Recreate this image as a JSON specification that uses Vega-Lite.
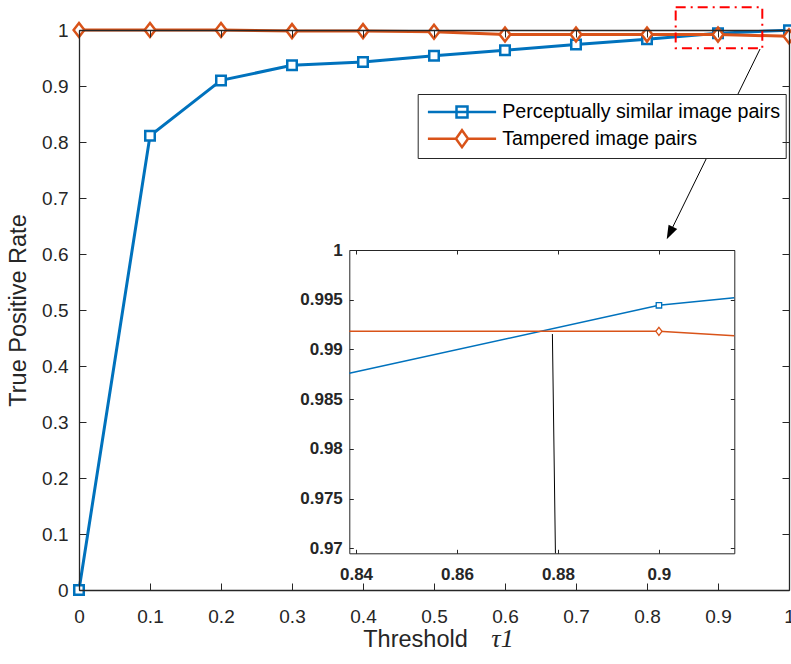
{
  "$schema": "https://vega.github.io/schema/vega-lite/v6.json",
  "width": 710,
  "height": 560,
  "autosize": {"type": "none"},
  "padding": {"left": 79, "top": 30, "right": 2, "bottom": 74},
  "background": "white",
  "config": {
    "view": {"stroke": null},
    "font": "Liberation Sans",
    "axis": {
      "grid": false,
      "domainColor": "#262626",
      "tickColor": "#262626",
      "labelColor": "#262626",
      "titleColor": "#262626",
      "labelFont": "Liberation Sans",
      "titleFont": "Liberation Sans",
      "titleFontWeight": "normal",
      "labelFlush": false,
      "labelOverlap": false
    }
  },
  "datasets": {
    "main": [
      {"t": 0.0, "tpr": 0.0, "series": "Perceptually similar image pairs"},
      {"t": 0.1, "tpr": 0.811, "series": "Perceptually similar image pairs"},
      {"t": 0.2, "tpr": 0.910, "series": "Perceptually similar image pairs"},
      {"t": 0.3, "tpr": 0.937, "series": "Perceptually similar image pairs"},
      {"t": 0.4, "tpr": 0.943, "series": "Perceptually similar image pairs"},
      {"t": 0.5, "tpr": 0.954, "series": "Perceptually similar image pairs"},
      {"t": 0.6, "tpr": 0.964, "series": "Perceptually similar image pairs"},
      {"t": 0.7, "tpr": 0.974, "series": "Perceptually similar image pairs"},
      {"t": 0.8, "tpr": 0.9833, "series": "Perceptually similar image pairs"},
      {"t": 0.9, "tpr": 0.9944, "series": "Perceptually similar image pairs"},
      {"t": 1.0, "tpr": 0.9995, "series": "Perceptually similar image pairs"},
      {"t": 0.0, "tpr": 1.0, "series": "Tampered image pairs"},
      {"t": 0.1, "tpr": 1.0, "series": "Tampered image pairs"},
      {"t": 0.2, "tpr": 1.0, "series": "Tampered image pairs"},
      {"t": 0.3, "tpr": 0.998, "series": "Tampered image pairs"},
      {"t": 0.4, "tpr": 0.998, "series": "Tampered image pairs"},
      {"t": 0.5, "tpr": 0.997, "series": "Tampered image pairs"},
      {"t": 0.6, "tpr": 0.992, "series": "Tampered image pairs"},
      {"t": 0.7, "tpr": 0.992, "series": "Tampered image pairs"},
      {"t": 0.8, "tpr": 0.9918, "series": "Tampered image pairs"},
      {"t": 0.9, "tpr": 0.9918, "series": "Tampered image pairs"},
      {"t": 1.0, "tpr": 0.9889, "series": "Tampered image pairs"}
    ],
    "inset": [
      {"t": 0.83867, "tpr": 0.9876, "series": "Perceptually similar image pairs"},
      {"t": 0.9, "tpr": 0.99444, "series": "Perceptually similar image pairs"},
      {"t": 0.91493, "tpr": 0.9952, "series": "Perceptually similar image pairs"},
      {"t": 0.83867, "tpr": 0.99182, "series": "Tampered image pairs"},
      {"t": 0.9, "tpr": 0.99182, "series": "Tampered image pairs"},
      {"t": 0.91493, "tpr": 0.99138, "series": "Tampered image pairs"}
    ]
  },
  "layer": [
    {
      "layer": [
        {
          "data": {"name": "main"},
          "mark": {"type": "line", "strokeWidth": 3},
          "encoding": {
            "x": {
              "field": "t", "type": "quantitative",
              "scale": {"domain": [0, 1], "nice": false, "zero": false},
              "axis": {
                "orient": "bottom",
                "values": [0, 0.1, 0.2, 0.3, 0.4, 0.5, 0.6, 0.7, 0.8, 0.9, 1],
                "format": ".1~f",
                "labelFontSize": 19,
                "tickSize": -7,
                "labelPadding": 24,
                "domainWidth": 1.3,
                "tickWidth": 1,
                "zindex": 1,
                "title": "Threshold",
                "titleFontSize": 23.5,
                "titleX": 336,
                "titleY": 56.7,
                "titleBaseline": "alphabetic",
                "titleAlign": "center"
              }
            },
            "y": {
              "field": "tpr", "type": "quantitative",
              "scale": {"domain": [0, 1], "nice": false, "zero": false},
              "axis": {
                "orient": "left",
                "values": [0, 0.1, 0.2, 0.3, 0.4, 0.5, 0.6, 0.7, 0.8, 0.9, 1],
                "format": ".1~f",
                "labelFontSize": 19,
                "tickSize": -7,
                "labelPadding": 18,
                "domainWidth": 1.3,
                "tickWidth": 1,
                "zindex": 1,
                "title": "True Positive Rate",
                "titleFontSize": 23.5,
                "titleAngle": -90,
                "titleX": -54,
                "titleY": 280,
                "titleBaseline": "alphabetic",
                "titleAlign": "center"
              }
            },
            "color": {
              "field": "series", "type": "nominal",
              "scale": {
                "domain": ["Perceptually similar image pairs", "Tampered image pairs"],
                "range": ["#0072BD", "#D95319"]
              },
              "legend": {
                "orient": "none",
                "legendX": 338.7,
                "legendY": 64,
                "title": null,
                "strokeColor": "#262626",
                "fillColor": "white",
                "padding": 5.5,
                "labelFont": "Liberation Sans",
                "labelFontSize": 19.7,
                "labelColor": "black",
                "labelLimit": 400,
                "symbolSize": 484,
                "symbolStrokeWidth": 2.5,
                "symbolOffset": 26.3,
                "rowPadding": 2.7,
                "labelOffset": 27.7,
                "encode": {
                  "symbols": {
                    "update": {
                      "shape": {"signal": "datum.value == 'Tampered image pairs' ? 'M-3.1,0L-0.55,0M0.55,0L3.1,0M0,-0.77L0.55,0L0,0.77L-0.55,0Z' : 'M-3.1,0L3.1,0M-0.5,-0.5L0.5,-0.5L0.5,0.5L-0.5,0.5Z'"},
                      "fill": {"value": "transparent"}
                    }
                  }
                }
              }
            }
          }
        },
        {
          "data": {"name": "main"},
          "transform": [{"filter": "datum.series == 'Perceptually similar image pairs'"}],
          "mark": {"type": "point", "shape": "M-0.68,-0.68H0.68V0.68H-0.68Z", "filled": false, "fill": "white", "fillOpacity": 1, "strokeWidth": 2.5, "opacity": 1, "size": 196},
          "encoding": {
            "x": {
              "field": "t", "type": "quantitative",
              "axis": {
                "orient": "top",
                "values": [0, 0.1, 0.2, 0.3, 0.4, 0.5, 0.6, 0.7, 0.8, 0.9, 1],
                "labels": false,
                "tickSize": -7,
                "domainWidth": 1.3,
                "tickWidth": 1,
                "zindex": 1,
                "title": null
              }
            },
            "y": {
              "field": "tpr", "type": "quantitative",
              "axis": {
                "orient": "right",
                "values": [0, 0.1, 0.2, 0.3, 0.4, 0.5, 0.6, 0.7, 0.8, 0.9, 1],
                "labels": false,
                "tickSize": -7,
                "domainWidth": 1.3,
                "tickWidth": 1,
                "zindex": 1,
                "title": null
              }
            },
            "color": {"field": "series", "type": "nominal", "legend": null}
          }
        },
        {
          "data": {"name": "main"},
          "transform": [{"filter": "datum.series == 'Tampered image pairs'"}],
          "mark": {"type": "point", "shape": "M0,-1L0.77,0L0,1L-0.77,0Z", "filled": false, "fill": "white", "fillOpacity": 1, "strokeWidth": 2.5, "opacity": 1, "size": 196},
          "encoding": {
            "x": {"field": "t", "type": "quantitative", "axis": null},
            "y": {"field": "tpr", "type": "quantitative", "axis": null},
            "color": {"field": "series", "type": "nominal", "legend": null}
          }
        },
        {
          "data": {"values": [{}]},
          "mark": {"type": "rect", "fill": null, "fillOpacity": 0, "stroke": "#FF0000", "strokeWidth": 2, "strokeDash": [10, 5, 2, 5], "clip": false},
          "encoding": {
            "x": {"datum": 0.8404, "type": "quantitative", "axis": {
              "orient": "bottom", "labels": false, "ticks": false, "domain": false,
              "title": "τ1", "titleFont": "Liberation Serif", "titleFontStyle": "italic",
              "titleFontSize": 26, "titleX": 423, "titleY": 56.7, "titleBaseline": "alphabetic", "titleAlign": "center"
            }},
            "x2": {"datum": 0.9624},
            "y": {"datum": 1.0405, "type": "quantitative", "axis": null},
            "y2": {"datum": 0.9673}
          }
        },
        {
          "data": {"values": [{}]},
          "mark": {"type": "rule", "color": "black", "strokeWidth": 1, "clip": false},
          "encoding": {
            "x": {"datum": 0.9592, "type": "quantitative", "axis": null},
            "x2": {"datum": 0.8332},
            "y": {"datum": 0.966, "type": "quantitative", "axis": null},
            "y2": {"datum": 0.6402}
          }
        },
        {
          "data": {"values": [{}]},
          "mark": {"type": "point", "shape": "M0,-1L0.55,0.6L-0.55,0.6Z", "size": 306, "angle": 206.2, "filled": true, "color": "black", "opacity": 1},
          "encoding": {
            "x": {"datum": 0.8332, "type": "quantitative", "axis": null},
            "y": {"datum": 0.6402, "type": "quantitative", "axis": null}
          }
        }
      ],
      "resolve": {"axis": {"x": "independent", "y": "independent"}}
    },
    {
      "layer": [
        {
          "data": {"name": "inset"},
          "mark": {"type": "line", "strokeWidth": 1.5},
          "encoding": {
            "x": {
              "field": "t", "type": "quantitative",
              "scale": {"domain": [0.83867, 0.91493], "range": [270.3, 655.3], "nice": false, "zero": false},
              "axis": {
                "orient": "bottom",
                "offset": -36.7,
                "values": [0.84, 0.86, 0.88, 0.9],
                "format": ".2~f",
                "labelFontSize": 17,
                "labelFontWeight": "bold",
                "tickSize": -4,
                "labelPadding": 17,
                "domainWidth": 1,
                "tickWidth": 1,
                "title": null
              }
            },
            "y": {
              "field": "tpr", "type": "quantitative",
              "scale": {"domain": [0.9695, 1], "range": [523.3, 220], "nice": false, "zero": false},
              "axis": {
                "orient": "left",
                "offset": -270.3,
                "values": [0.97, 0.975, 0.98, 0.985, 0.99, 0.995, 1],
                "format": ".3~f",
                "labelFontSize": 17,
                "labelFontWeight": "bold",
                "tickSize": -4,
                "labelPadding": 11,
                "domainWidth": 1,
                "tickWidth": 1,
                "title": null
              }
            },
            "color": {"field": "series", "type": "nominal", "legend": null}
          }
        },
        {
          "data": {"name": "inset"},
          "transform": [{"filter": "datum.t == 0.9 && datum.series == 'Perceptually similar image pairs'"}],
          "mark": {"type": "point", "shape": "M-0.68,-0.68H0.68V0.68H-0.68Z", "filled": false, "fill": "white", "fillOpacity": 1, "strokeWidth": 1.3, "opacity": 1, "size": 64},
          "encoding": {
            "x": {
              "field": "t", "type": "quantitative",
              "axis": {
                "orient": "top", "offset": -220,
                "values": [0.84, 0.86, 0.88, 0.9],
                "labels": false, "tickSize": -4, "domainWidth": 1, "tickWidth": 1, "title": null
              }
            },
            "y": {
              "field": "tpr", "type": "quantitative",
              "axis": {
                "orient": "right", "offset": -54.7,
                "values": [0.97, 0.975, 0.98, 0.985, 0.99, 0.995, 1],
                "labels": false, "tickSize": -4, "domainWidth": 1, "tickWidth": 1, "title": null
              }
            },
            "color": {"field": "series", "type": "nominal", "legend": null}
          }
        },
        {
          "data": {"name": "inset"},
          "transform": [{"filter": "datum.t == 0.9 && datum.series == 'Tampered image pairs'"}],
          "mark": {"type": "point", "shape": "M0,-1L0.77,0L0,1L-0.77,0Z", "filled": false, "fill": "white", "fillOpacity": 1, "strokeWidth": 1.3, "opacity": 1, "size": 64},
          "encoding": {
            "x": {"field": "t", "type": "quantitative", "axis": null},
            "y": {"field": "tpr", "type": "quantitative", "axis": null},
            "color": {"field": "series", "type": "nominal", "legend": null}
          }
        },
        {
          "data": {"values": [{}]},
          "mark": {"type": "rule", "color": "black", "strokeWidth": 1},
          "encoding": {
            "x": {"datum": 0.8789, "type": "quantitative", "axis": null},
            "x2": {"datum": 0.8795},
            "y": {"datum": 0.99155, "type": "quantitative", "axis": null},
            "y2": {"datum": 0.9695}
          }
        }
      ],
      "resolve": {"axis": {"x": "independent", "y": "independent"}}
    }
  ],
  "resolve": {"scale": {"x": "independent", "y": "independent"}}
}
